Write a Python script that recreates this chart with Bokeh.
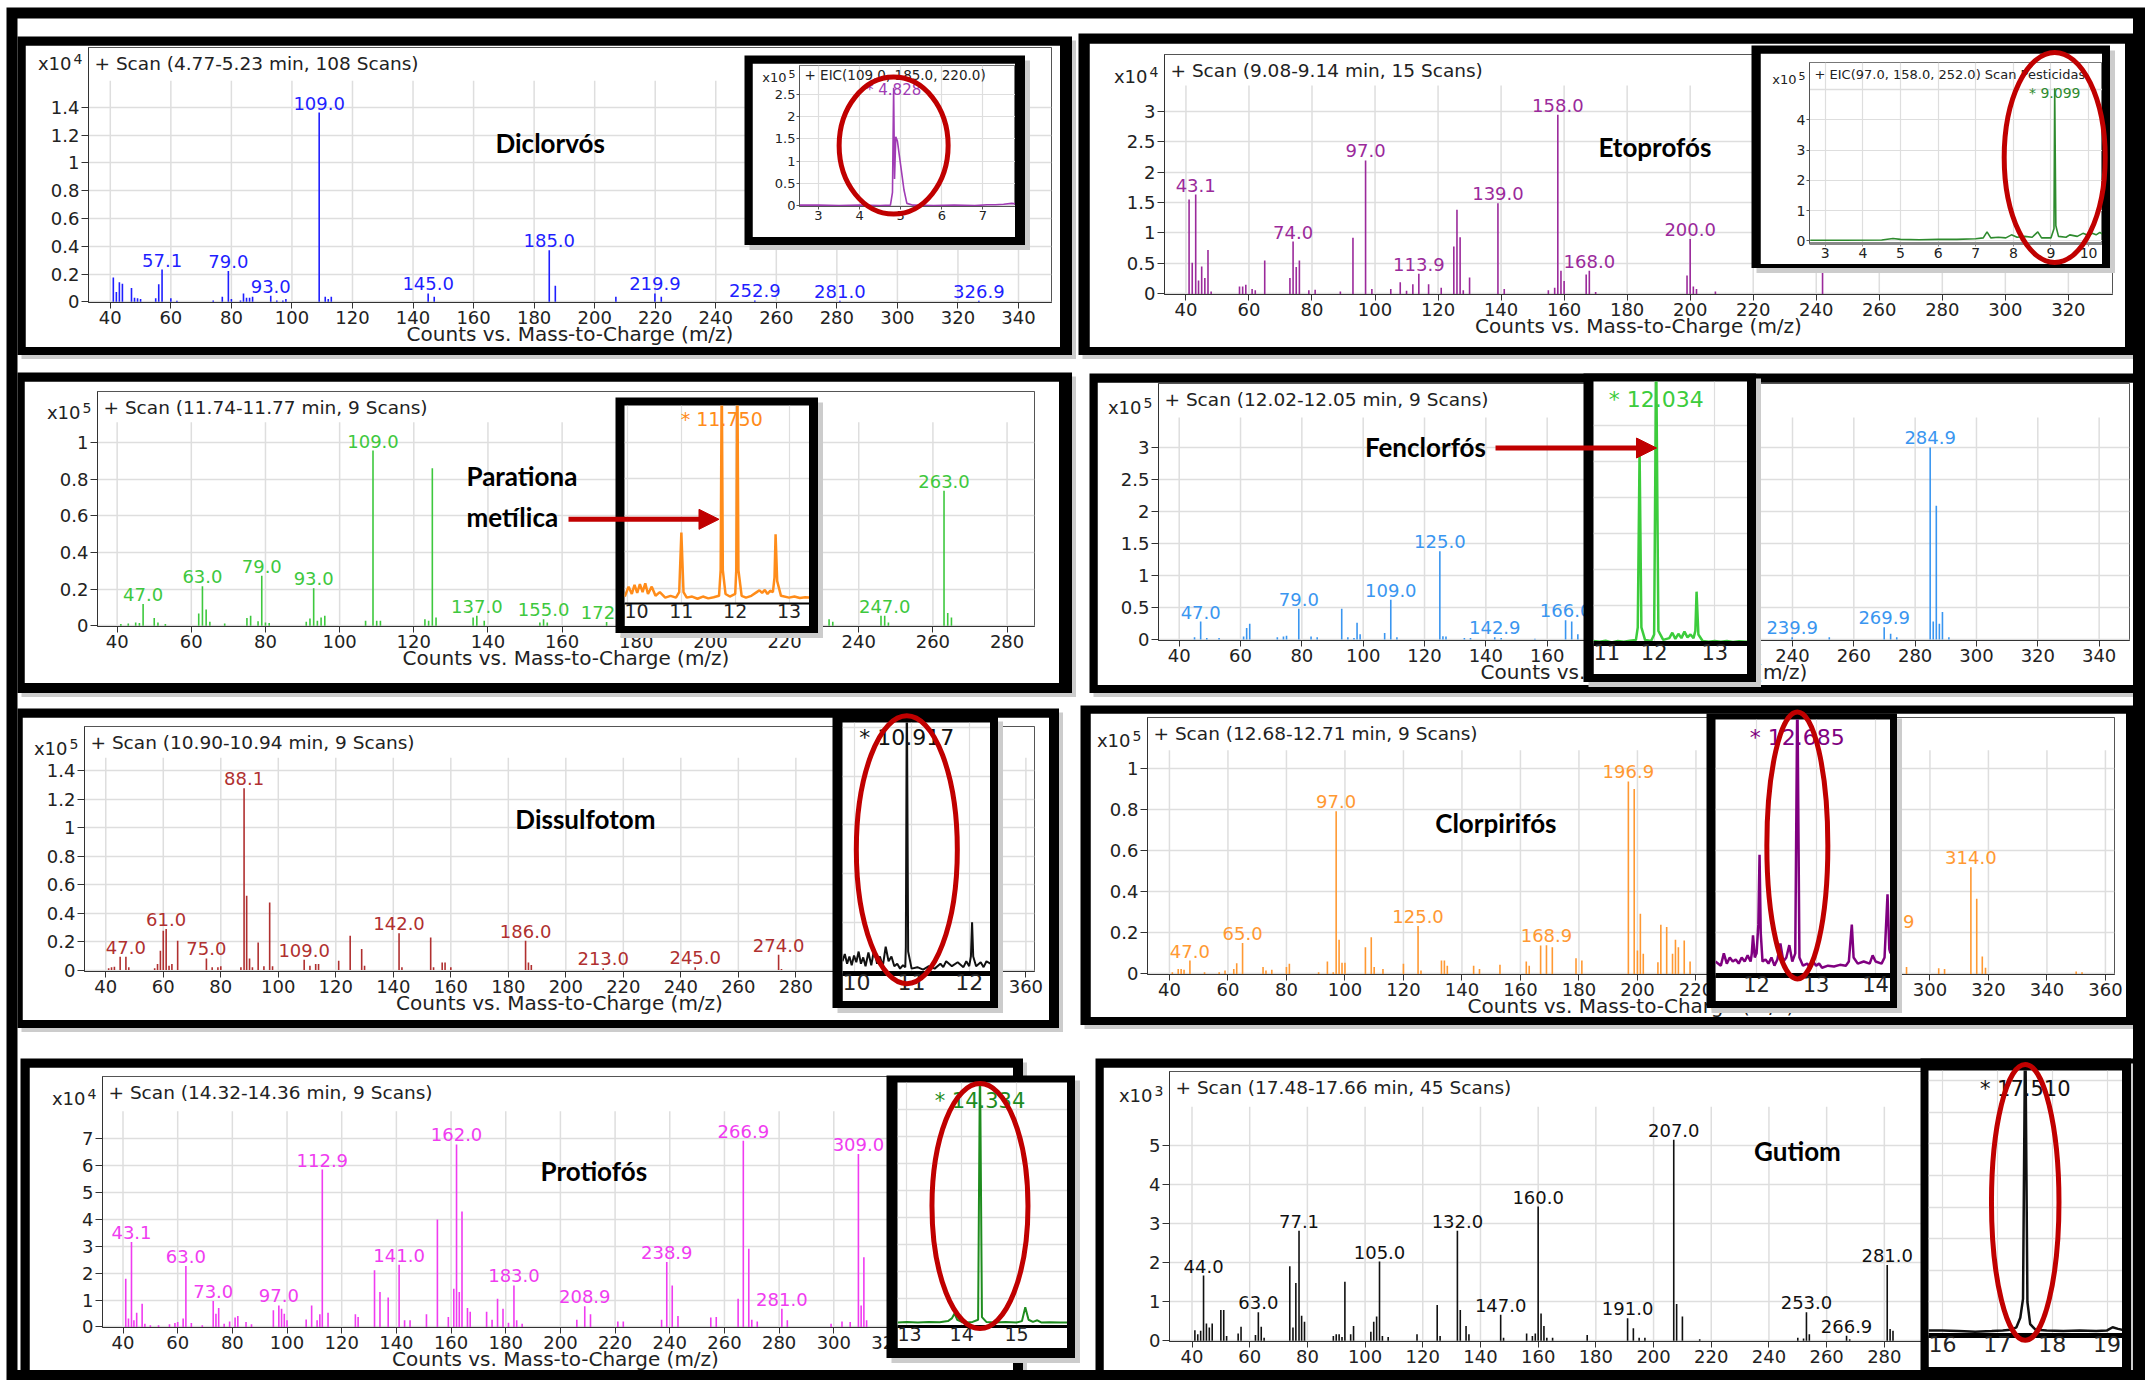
from bokeh.plotting import figure
from bokeh.models import (Range1d, FixedTicker, CustomJSTickFormatter, Arrow, NormalHead, GridBox)
from bokeh.core.properties import value
from bokeh.core.validation import silence
from bokeh.core.validation.warnings import MISSING_RENDERERS
from bokeh.embed import file_html
from bokeh.resources import INLINE

silence(MISSING_RENDERERS, True)

# ------------------------------------------------------------------ data
# mass spectra: (m/z, counts) pairs, labelled m/z values
diclorvos_peaks = [(41, 0.175), (42, 0.07), (43, 0.14), (44, 0.13), (47, 0.10), (48, 0.03), (49, 0.025),
                   (50, 0.02), (55, 0.025), (56, 0.127), (57.1, 0.232), (60, 0.025), (62, 0.008), (74, 0.01),
                   (77, 0.036), (79.0, 0.222), (80, 0.02), (83, 0.01), (84, 0.06), (85, 0.03), (86, 0.03),
                   (87, 0.036), (93.0, 0.043), (95, 0.01), (97, 0.01), (98, 0.02), (109.0, 1.362), (111, 0.036),
                   (112, 0.02), (113, 0.036), (145.0, 0.06), (147, 0.036), (185.0, 0.371), (187, 0.115),
                   (207, 0.036), (219.9, 0.06), (222, 0.036), (252.9, 0.01), (281.0, 0.008), (326.9, 0.008)]
diclorvos_labels = [57.1, 79.0, 93.0, 109.0, 145.0, 185.0, 219.9, 252.9, 281.0, 326.9]

etoprofos_peaks = [(41, 1.55), (42, 0.51), (43.1, 1.63), (44, 0.22), (45, 0.45), (46, 0.26), (47, 0.72), (48, 0.04),
                   (57, 0.12), (58, 0.12), (59, 0.15), (61, 0.08), (62, 0.06), (65, 0.55), (73, 0.26), (74.0, 0.86),
                   (75, 0.44), (76, 0.55), (79, 0.06), (81, 0.07), (89, 0.04), (93, 0.92), (97.0, 2.19), (99, 0.08),
                   (105, 0.08), (108, 0.19), (110, 0.05), (112, 0.16), (113.9, 0.33), (117, 0.16), (121, 0.1),
                   (125, 0.78), (126, 1.38), (127, 0.93), (128, 0.06), (130, 0.27), (139.0, 1.49), (141, 0.08),
                   (155, 0.06), (157, 0.1), (158.0, 2.94), (159, 0.38), (160, 0.21), (167, 0.32), (168.0, 0.38),
                   (170, 0.03), (199, 0.30), (200.0, 0.90), (201, 0.12), (202, 0.08), (208, 0.04), (242, 1.2)]
etoprofos_labels = [43.1, 74.0, 97.0, 113.9, 139.0, 158.0, 168.0, 200.0]

paration_peaks = [(41, 0.01), (43, 0.013), (45, 0.018), (46, 0.015), (47.0, 0.118), (50, 0.042), (51, 0.018),
                  (53, 0.01), (62, 0.067), (63.0, 0.215), (64, 0.089), (65, 0.022), (69, 0.013), (75, 0.042),
                  (76, 0.055), (78, 0.024), (79.0, 0.273), (80, 0.018), (81, 0.015), (91, 0.022), (92, 0.04),
                  (93.0, 0.204), (94, 0.027), (95, 0.045), (96, 0.055), (107, 0.027), (109.0, 0.955), (110, 0.027),
                  (111, 0.027), (123, 0.036), (124, 0.027), (125, 0.858), (126, 0.045), (136, 0.045), (137.0, 0.055),
                  (139, 0.027), (154, 0.018), (155.0, 0.036), (156, 0.018), (172.0, 0.02), (230, 0.027),
                  (232, 0.036), (233, 0.022), (246, 0.055), (247.0, 0.055), (248, 0.018), (263.0, 0.736),
                  (264, 0.069), (265, 0.045)]
paration_labels = [47.0, 63.0, 79.0, 93.0, 109.0, 137.0, 155.0, 172.0, 247.0, 263.0]

fenclorfos_peaks = [(45, 0.035), (47.0, 0.28), (49, 0.025), (53, 0.025), (61, 0.045), (62, 0.18), (63, 0.245),
                    (72, 0.035), (74, 0.045), (75, 0.06), (79.0, 0.48), (83, 0.045), (85, 0.035), (93, 0.48),
                    (95, 0.035), (97, 0.025), (98, 0.26), (99, 0.08), (107, 0.1), (109.0, 0.62), (111, 0.035),
                    (125.0, 1.38), (126, 0.05), (127, 0.045), (133, 0.025), (135, 0.025), (142.9, 0.035),
                    (145, 0.025), (156, 0.01), (166.0, 0.30), (168, 0.28), (170, 0.08), (239.9, 0.035), (252, 0.035),
                    (269.9, 0.19), (272, 0.09), (274, 0.035), (284.9, 3.0), (285.9, 0.28), (286.9, 2.09),
                    (287.9, 0.245), (288.9, 0.43), (291, 0.035)]
fenclorfos_labels = [47.0, 79.0, 109.0, 125.0, 142.9, 166.0, 239.9, 269.9, 284.9]

dissulfotom_peaks = [(41, 0.012), (42, 0.019), (43, 0.023), (45, 0.094), (47.0, 0.094), (48, 0.019), (57, 0.012),
                     (58, 0.042), (59, 0.136), (60, 0.276), (61.0, 0.288), (62, 0.03), (63, 0.042), (65, 0.206),
                     (75.0, 0.082), (77, 0.019), (79, 0.019), (80, 0.026), (87, 0.019), (88.1, 1.276), (89, 0.522),
                     (90, 0.082), (91, 0.019), (93, 0.194), (95, 0.026), (97, 0.475), (98, 0.026), (109.0, 0.073),
                     (111, 0.03), (113, 0.042), (114, 0.042), (121, 0.066), (125, 0.241), (129, 0.148), (130, 0.03),
                     (142.0, 0.258), (143, 0.019), (153, 0.229), (154, 0.019), (157, 0.054), (158, 0.054),
                     (160, 0.019), (186.0, 0.206), (187, 0.054), (188, 0.035), (213.0, 0.012), (245.0, 0.019),
                     (274.0, 0.108), (275, 0.007)]
dissulfotom_labels = [47.0, 61.0, 75.0, 88.1, 109.0, 142.0, 186.0, 213.0, 245.0, 274.0]

clorpirifos_peaks = [(41, 0.008), (43, 0.024), (44, 0.024), (45, 0.02), (47.0, 0.065), (52, 0.008), (57, 0.008),
                     (59, 0.016), (62, 0.024), (63, 0.052), (65.0, 0.15), (72, 0.033), (73, 0.016), (75, 0.02),
                     (80, 0.033), (81, 0.049), (91, 0.008), (94, 0.06), (96, 0.008), (97.0, 0.793), (98, 0.167),
                     (99, 0.054), (100, 0.054), (107, 0.13), (109, 0.179), (110, 0.033), (113, 0.024), (120, 0.049),
                     (125.0, 0.233), (126, 0.016), (133, 0.065), (134, 0.065), (135, 0.04), (144, 0.04), (146, 0.024),
                     (153, 0.044), (162, 0.06), (163, 0.04), (166.9, 0.138), (168.9, 0.14), (170.9, 0.13),
                     (179, 0.076), (181, 0.065), (196.9, 0.938), (198.9, 0.902), (200, 0.114), (201, 0.293),
                     (202, 0.098), (207, 0.057), (208, 0.239), (210, 0.228), (212, 0.098), (213, 0.166), (214, 0.13),
                     (216, 0.163), (218, 0.06), (285.9, 0.21), (288, 0.05), (290, 0.04), (292, 0.033), (303, 0.028),
                     (305, 0.024), (314.0, 0.52), (316.0, 0.366), (317.9, 0.085), (319, 0.03), (350, 0.012),
                     (352, 0.008)]
clorpirifos_labels = [47.0, 65.0, 97.0, 125.0, 168.9, 196.9, 285.9, 314.0]

protiofos_peaks = [(41, 1.79), (42, 0.31), (43.1, 3.15), (44, 0.25), (45, 0.53), (47, 0.86), (48, 0.12), (50, 0.06),
                   (53, 0.06), (57, 0.1), (59, 0.15), (60, 0.18), (62, 0.31), (63.0, 2.26), (65, 0.15), (69, 0.06),
                   (73.0, 0.96), (74, 0.49), (75, 0.70), (77, 0.12), (79, 0.2), (81, 0.35), (82, 0.41), (85, 0.18),
                   (87, 0.1), (95, 0.62), (97.0, 0.80), (98, 0.68), (99, 0.49), (100, 0.25), (107, 0.28), (109, 0.80),
                   (111, 0.25), (112, 0.47), (112.9, 5.84), (115, 0.53), (125, 0.47), (126, 0.37), (132, 2.10),
                   (134, 1.30), (137, 1.09), (141.0, 2.31), (143, 0.25), (145, 0.25), (151, 0.47), (155, 3.99),
                   (159, 0.37), (161, 1.42), (162.0, 6.77), (163, 1.30), (164, 4.28), (166, 0.70), (167, 0.56),
                   (173, 0.56), (175, 0.27), (177, 1.05), (179, 0.68), (181, 0.16), (183.0, 1.54), (184, 0.25),
                   (186, 0.12), (206, 0.27), (208.9, 0.77), (211, 0.47), (221, 0.2), (223, 0.2), (237, 0.27),
                   (238.9, 2.41), (240.9, 1.54), (243, 0.41), (255, 0.35), (257, 0.37), (265, 1.05), (266.9, 6.91),
                   (268.9, 2.90), (270, 0.27), (272, 0.2), (281.0, 0.68), (283, 0.25), (299, 0.12), (303, 0.2),
                   (306, 0.18), (309.0, 6.42), (310, 0.80), (311, 2.59), (312, 0.25)]
protiofos_labels = [43.1, 63.0, 73.0, 97.0, 112.9, 141.0, 162.0, 183.0, 208.9, 238.9, 266.9, 281.0, 309.0]

gutiom_peaks = [(41, 0.27), (42, 0.17), (43, 0.26), (44.0, 1.67), (45, 0.44), (46, 0.34), (47, 0.44), (50, 0.79),
                (51, 0.79), (52, 0.12), (56, 0.19), (57, 0.36), (62, 0.15), (63.0, 0.73), (64, 0.36), (65, 0.08),
                (73.9, 1.91), (75, 0.34), (76, 1.48), (77.1, 2.82), (78, 0.64), (79, 0.49), (89, 0.12), (90, 0.17),
                (91, 0.17), (92, 0.1), (93, 1.51), (95, 0.17), (96, 0.38), (102, 0.23), (103, 0.49), (104, 0.62),
                (105.0, 2.03), (106, 0.12), (108, 0.1), (118, 0.17), (125, 0.92), (126, 0.12), (132.0, 2.82),
                (133, 0.79), (135, 0.38), (136, 0.17), (147.0, 0.67), (148, 0.08), (156, 0.19), (158, 0.12),
                (159, 0.19), (160.0, 3.44), (161, 0.70), (162, 0.38), (163, 0.08), (165, 0.08), (177, 0.15),
                (191.0, 0.58), (193, 0.32), (195, 0.08), (197, 0.08), (207.0, 5.15), (208, 0.94), (210, 0.62),
                (216, 0.04), (250, 0.08), (252, 0.06), (253.0, 0.73), (254, 0.17), (266.9, 0.13), (268, 0.04),
                (281.0, 1.94), (282, 0.30), (283, 0.26)]
gutiom_labels = [44.0, 63.0, 77.1, 105.0, 132.0, 147.0, 160.0, 191.0, 207.0, 253.0, 266.9, 281.0]

# chromatograms (retention time, signal) for the insets
diclorvos_eic = [(2.55, 0.01), (3.0, 0.01), (3.5, 0.0), (4.0, 0.01), (4.5, 0.0), (4.75, 0.01), (4.80, 0.3),
                 (4.828, 2.65), (4.85, 0.6), (4.88, 1.55), (4.92, 1.45), (5.0, 0.9), (5.08, 0.35), (5.15, 0.05),
                 (5.3, 0.01), (5.8, 0.0), (6.3, 0.01), (6.8, 0.0), (7.1, 0.02), (7.3, 0.02), (7.5, 0.03),
                 (7.7, 0.05), (7.79, 0.04)]
etoprofos_eic = [(2.6, 0.02), (3.5, 0.02), (4.5, 0.03), (4.8, 0.08), (5.0, 0.05), (5.5, 0.04), (6.0, 0.05),
                 (6.5, 0.05), (7.0, 0.07), (7.2, 0.1), (7.3, 0.3), (7.4, 0.1), (7.6, 0.12), (7.8, 0.1), (7.95, 0.2),
                 (8.1, 0.12), (8.3, 0.15), (8.5, 0.12), (8.65, 0.3), (8.75, 0.1), (9.0, 0.1), (9.08, 0.4),
                 (9.099, 5.05), (9.13, 0.5), (9.2, 0.15), (9.4, 0.12), (9.5, 0.2), (9.7, 0.15), (9.85, 0.25),
                 (10.0, 0.18), (10.1, 0.25), (10.2, 0.2), (10.3, 0.28), (10.37, 0.22)]
paration_tic = [(9.95, -0.22), (10.02, 0.05), (10.08, -0.15), (10.13, 0.1), (10.18, -0.12), (10.23, 0.12),
                (10.28, -0.1), (10.33, 0.14), (10.38, -0.15), (10.45, 0.05), (10.52, -0.2), (10.6, -0.1),
                (10.7, -0.25), (10.8, -0.2), (10.9, -0.25), (10.96, -0.1), (11.0, 1.53), (11.04, -0.1),
                (11.1, -0.25), (11.2, -0.22), (11.3, -0.28), (11.4, -0.22), (11.5, -0.27), (11.6, -0.24),
                (11.7, -0.2), (11.73, 0.5), (11.75, 6.0), (11.77, 0.5), (11.82, -0.15), (11.9, -0.22), (12.0, -0.15),
                (12.02, 0.5), (12.04, 6.0), (12.06, 0.5), (12.12, -0.2), (12.2, -0.25), (12.3, -0.2), (12.4, -0.1),
                (12.45, -0.05), (12.5, -0.12), (12.55, -0.04), (12.6, -0.15), (12.65, -0.06), (12.7, -0.1),
                (12.73, 0.3), (12.75, 1.48), (12.78, 0.2), (12.85, -0.2), (13.0, -0.25), (13.1, -0.22),
                (13.2, -0.26), (13.3, -0.24), (13.38, -0.25)]
fenclorfos_tic = [(11.0, 0.02), (11.1, 0.0), (11.2, 0.03), (11.3, -0.02), (11.4, 0.02), (11.5, 0.0), (11.6, 0.03),
                  (11.7, 0.05), (11.73, 0.4), (11.76, 5.3), (11.79, 0.4), (11.85, 0.05), (11.95, 0.02), (12.0, 0.2),
                  (12.034, 8.0), (12.07, 0.3), (12.15, 0.05), (12.25, 0.1), (12.3, 0.25), (12.35, 0.08), (12.4, 0.22),
                  (12.45, 0.1), (12.5, 0.28), (12.55, 0.12), (12.6, 0.2), (12.65, 0.1), (12.68, 0.3), (12.7, 1.39),
                  (12.73, 0.2), (12.8, 0.02), (12.9, 0.0), (13.0, 0.02), (13.1, 0.0), (13.2, 0.02), (13.3, -0.01),
                  (13.4, 0.01), (13.54, 0.0)]
dissulfotom_tic = [(9.8, 0.2), (9.84, 0.35), (9.88, 0.15), (9.92, 0.3), (9.96, 0.12), (10.0, 0.32), (10.04, 0.18),
                   (10.08, 0.4), (10.12, 0.15), (10.16, 0.28), (10.2, 0.1), (10.25, 0.38), (10.3, 0.12), (10.35, 0.45),
                   (10.4, 0.15), (10.45, 0.3), (10.5, 0.1), (10.55, 0.5), (10.6, 0.2), (10.65, 0.3), (10.7, 0.1),
                   (10.75, 0.15), (10.8, 0.05), (10.85, 0.12), (10.89, 0.08), (10.9, 0.5), (10.917, 6.0),
                   (10.94, 0.4), (11.0, 0.05), (11.1, 0.08), (11.2, 0.03), (11.3, 0.1), (11.4, 0.05), (11.5, 0.15),
                   (11.55, 0.08), (11.6, 0.2), (11.7, 0.1), (11.8, 0.18), (11.9, 0.08), (11.95, 0.2), (12.0, 0.1),
                   (12.03, 0.3), (12.05, 1.0), (12.07, 0.3), (12.12, 0.1), (12.2, 0.18), (12.25, 0.08), (12.3, 0.2),
                   (12.37, 0.15)]
clorpirifos_tic = [(11.31, 0.3), (11.4, 0.2), (11.45, 0.5), (11.5, 0.25), (11.55, 0.4), (11.6, 0.3), (11.65, 0.35),
                   (11.7, 0.25), (11.75, 0.4), (11.8, 0.3), (11.85, 0.45), (11.9, 0.3), (11.92, 0.5), (11.94, 0.94),
                   (11.97, 0.4), (12.0, 0.5), (12.03, 1.2), (12.05, 2.9), (12.07, 1.0), (12.1, 0.3), (12.15, 0.35),
                   (12.2, 0.25), (12.25, 0.4), (12.3, 0.2), (12.35, 0.35), (12.4, 0.74), (12.45, 0.3), (12.5, 0.4),
                   (12.55, 0.7), (12.6, 0.3), (12.65, 0.5), (12.685, 7.0), (12.72, 0.4), (12.78, 0.2), (12.85, 0.25),
                   (12.9, 0.15), (12.95, 0.3), (13.0, 0.2), (13.05, 0.25), (13.1, 0.15), (13.2, 0.2), (13.3, 0.18),
                   (13.4, 0.22), (13.5, 0.2), (13.55, 0.3), (13.6, 1.2), (13.63, 0.4), (13.7, 0.25), (13.8, 0.3),
                   (13.9, 0.25), (13.95, 0.45), (14.0, 0.3), (14.1, 0.25), (14.15, 0.4), (14.2, 1.94), (14.23, 0.6),
                   (14.25, 0.5)]
protiofos_tic = [(12.83, 0.1), (13.0, 0.12), (13.2, 0.1), (13.4, 0.12), (13.6, 0.11), (13.75, 0.15), (13.82, 0.25),
                 (13.87, 0.43), (13.92, 0.2), (14.0, 0.12), (14.1, 0.1), (14.2, 0.12), (14.3, 0.2), (14.334, 10.0),
                 (14.37, 0.3), (14.45, 0.12), (14.6, 0.1), (14.8, 0.12), (15.0, 0.1), (15.1, 0.15), (15.16, 0.66),
                 (15.22, 0.2), (15.3, 0.12), (15.38, 0.18), (15.45, 0.1), (15.6, 0.11), (15.8, 0.1), (15.93, 0.1)]
gutiom_tic = [(15.75, 0.1), (16.0, 0.1), (16.3, 0.08), (16.6, 0.06), (16.9, 0.08), (17.1, 0.1), (17.25, 0.12),
              (17.35, 0.2), (17.42, 0.5), (17.47, 1.1), (17.51, 10.0), (17.55, 1.0), (17.6, 0.3), (17.7, 0.12),
              (17.9, 0.1), (18.2, 0.08), (18.5, 0.1), (18.8, 0.08), (19.0, 0.1), (19.1, 0.2), (19.2, 0.15),
              (19.28, 0.12)]

peak_rts = [4.828, 9.099, 11.750, 12.034, 10.917, 12.685, 14.334, 17.510]
peak_rt_labels = ["* 4.828", "* 9.099", "* 11.750", "* 12.034", "* 10.917", "* 12.685", "* 14.334", "* 17.510"]

compounds = ["Diclorvós", "Etoprofós", "Parationa", "metílica", "Fenclorfós", "Dissulfotom", "Clorpirifós",
             "Protiofós", "Gutiom"]
scan_titles = ["+ Scan (4.77-5.23 min, 108 Scans)", "+ Scan (9.08-9.14 min, 15 Scans)",
               "+ Scan (11.74-11.77 min, 9 Scans)", "+ Scan (12.02-12.05 min, 9 Scans)",
               "+ Scan (10.90-10.94 min, 9 Scans)", "+ Scan (12.68-12.71 min, 9 Scans)",
               "+ Scan (14.32-14.36 min, 9 Scans)", "+ Scan (17.48-17.66 min, 45 Scans)"]
exponents = ["4", "4", "5", "5", "5", "5", "4", "3"]
eic_titles = ["+ EIC(109.0, 185.0, 220.0)", "+ EIC(97.0, 158.0, 252.0) Scan Pesticidas"]
x_axis_title = "Counts vs. Mass-to-Charge (m/z)"

mz_ticks_340 = [40, 60, 80, 100, 120, 140, 160, 180, 200, 220, 240, 260, 280, 300, 320, 340]
mz_ticks_320 = [40, 60, 80, 100, 120, 140, 160, 180, 200, 220, 240, 260, 280, 300, 320]
mz_ticks_280 = [40, 60, 80, 100, 120, 140, 160, 180, 200, 220, 240, 260, 280]
mz_ticks_360 = [40, 60, 80, 100, 120, 140, 160, 180, 200, 220, 240, 260, 280, 300, 320, 340, 360]
y_ticks_14 = [0, 0.2, 0.4, 0.6, 0.8, 1, 1.2, 1.4]
y_ticks_3 = [0, 0.5, 1, 1.5, 2, 2.5, 3]
y_ticks_1 = [0, 0.2, 0.4, 0.6, 0.8, 1]
y_ticks_7 = [0, 1, 2, 3, 4, 5, 6, 7]
y_ticks_5 = [0, 1, 2, 3, 4, 5]

# ------------------------------------------------------------------ helpers
FONT = "DejaVu Sans"
RED = "#c00000"
GRID = "#dedede"
SHADOW = "#cccccc"
children = []


def add(model, rect):
    children.append((model, tuple(int(round(v)) for v in rect)))


def base_fig(rect, **kw):
    x0, y0, x1, y1 = [int(round(v)) for v in rect]
    return figure(width=x1 - x0, height=y1 - y0, output_backend="svg", toolbar_location=None,
                  title=None, frame_align=False, **kw)


def block(rect, color):
    p = base_fig(rect, x_range=Range1d(0, 1), y_range=Range1d(0, 1), x_axis_location=None,
                 y_axis_location=None, min_border=0, background_fill_color=color,
                 border_fill_color=color, outline_line_color=None)
    p.grid.visible = False
    add(p, rect)


def framed(rect, shadow=5):
    """black frame with a soft grey drop shadow"""
    x0, y0, x1, y1 = rect
    block((x0 + shadow, y0 + shadow, min(x1 + shadow, 2133), min(y1 + shadow, 1370)), SHADOW)
    block(rect, "black")


def layer(rect, frame, xr, yr):
    """transparent full-canvas figure whose scales coincide with the plot frame given"""
    ox0, oy0, ox1, oy1 = rect
    L, T, R, B = frame
    kx = (xr[1] - xr[0]) / (R - L)
    ky = (yr[1] - yr[0]) / (B - T)
    oxr = (xr[0] - (L - ox0) * kx, xr[1] + (ox1 - R) * kx)
    oyr = (yr[0] - (oy1 - B) * ky, yr[1] + (T - oy0) * ky)
    p = base_fig(rect, x_range=Range1d(*oxr), y_range=Range1d(*oyr), x_axis_location=None,
                 y_axis_location=None, min_border=0, background_fill_color=None, border_fill_color=None,
                 outline_line_color=None)
    p.grid.visible = False
    return p


def txt(p, x, y, s, size, dx=0, dy=0, align="center", color="#222"):
    p.text(x=[x], y=[y], text=[s], x_offset=dx, y_offset=dy, text_align=align, text_baseline="middle",
           text_font=value(FONT), text_font_size=size, text_color=color)


def style_axis(ax, size, ticks, tick_out=6, standoff=2, color="#333", line_w=1):
    ax.ticker = FixedTicker(ticks=ticks)
    ax.formatter = CustomJSTickFormatter(code="return tick.toString()")
    ax.major_label_text_font = FONT
    ax.major_label_text_font_size = size
    ax.major_label_text_color = "#222"
    ax.axis_line_color = color
    ax.axis_line_width = line_w
    ax.major_tick_line_color = color if tick_out > 0 else None
    ax.minor_tick_line_color = None
    ax.major_tick_in = 0
    ax.major_tick_out = tick_out
    ax.major_label_standoff = standoff


def main_panel(canvas, frame, xr, yr, xticks, yticks, grid_top, peaks, labels, color, title, exponent,
               x10_dy, names, xlabel=True):
    cx0, cy0, cx1, cy1 = canvas
    L, T, R, B = frame
    p = base_fig(canvas, x_range=Range1d(*xr), y_range=Range1d(*yr),
                 min_border_left=L - cx0, min_border_right=cx1 - R, min_border_top=T - cy0,
                 min_border_bottom=cy1 - B, background_fill_color="white", border_fill_color="white",
                 outline_line_color="#555")
    style_axis(p.xaxis[0], "18px", xticks)
    style_axis(p.yaxis[0], "18px", yticks, tick_out=7)
    p.xgrid.visible = False
    p.ygrid.grid_line_color = GRID
    p.ygrid.grid_line_width = 1.5
    gx = [t for t in xticks if xr[0] < t < xr[1]]
    p.segment(x0=gx, y0=[yr[0]] * len(gx), x1=gx, y1=[grid_top] * len(gx), line_color=GRID, line_width=1.5)
    mz = [m for m, _ in peaks]
    it = [v for _, v in peaks]
    p.segment(x0=mz, y0=[0] * len(mz), x1=mz, y1=it, line_color=color, line_width=1.6)
    d = dict(peaks)
    p.text(x=labels, y=[d[m] for m in labels], text=["%.1f" % m for m in labels], text_align="center",
           text_baseline="bottom", y_offset=-3, text_font=value(FONT), text_font_size="18px", text_color=color)
    txt(p, xr[0], yr[1], title, "18.5px", dx=6, dy=16, align="left")
    for nx, ny, ntext, nalign in names:
        p.text(x=[nx], y=[ny], text=[ntext], text_align=nalign, text_baseline="middle",
               text_font=value("Lato"), text_font_style="bold", text_font_size="26px", text_color="black")
    add(p, canvas)
    # texts that sit outside the plot frame
    t = layer(canvas, frame, xr, yr)
    txt(t, xr[0], yr[1], "x10", "18px", dx=-17, dy=x10_dy, align="right")
    txt(t, xr[0], yr[1], exponent, "14px", dx=-6, dy=x10_dy - 5, align="right")
    if xlabel:
        txt(t, (xr[0] + xr[1]) / 2, yr[0], x_axis_title, "20px", dy=31)
    add(t, canvas)


def inset_panel(canvas, frame, xr, yr, xticks, trace, color, lw, tick_px, k, label_px, label_dy,
                axis_color="black", axis_w=4, yticks=None, hlines=(), title=None, title_px="13px",
                title_dy=10, tick_out=0, outline=None):
    cx0, cy0, cx1, cy1 = canvas
    L, T, R, B = frame
    p = base_fig(canvas, x_range=Range1d(*xr), y_range=Range1d(*yr),
                 y_axis_location="left" if yticks else None,
                 min_border_left=L - cx0, min_border_right=cx1 - R, min_border_top=T - cy0,
                 min_border_bottom=cy1 - B, background_fill_color="white", border_fill_color="white",
                 outline_line_color=outline)
    style_axis(p.xaxis[0], tick_px, xticks, tick_out=tick_out, standoff=1 if tick_out else 0,
               color=axis_color, line_w=axis_w)
    if tick_out == 0:
        p.xaxis[0].major_tick_line_color = None
    p.xgrid.grid_line_color = GRID
    p.xgrid.grid_line_width = 1.2
    if yticks:
        style_axis(p.yaxis[0], tick_px, yticks, tick_out=tick_out, standoff=1, color="#555")
        p.ygrid.grid_line_color = GRID
        p.ygrid.grid_line_width = 1.2
    else:
        p.ygrid.visible = False
    if hlines:
        p.hspan(y=list(hlines), line_color=GRID, line_width=1.5)
    p.line([t for t, _ in trace], [v for _, v in trace], line_color=color, line_width=lw)
    txt(p, peak_rts[k], yr[1], peak_rt_labels[k], label_px, dy=label_dy, color=color)
    if title is not None:
        txt(p, xr[0], yr[1], title, title_px, dx=5, dy=title_dy, align="left")
    add(p, canvas)


def overlay(orect, frame, xr, yr, ellipse=None, arrow=None, x10_dy=None):
    p = layer(orect, frame, xr, yr)
    if ellipse is not None:
        ex, ey, ew, eh = ellipse
        p.ellipse(x=[ex], y=[ey], width=[ew], height=[eh], width_units="screen", height_units="screen",
                  fill_color=None, line_color=RED, line_width=5)
    if arrow is not None:
        x0, x1, ya = arrow
        p.add_layout(Arrow(end=NormalHead(size=20, fill_color=RED, line_color=RED), x_start=x0, y_start=ya,
                           x_end=x1, y_end=ya, line_color=RED, line_width=5))
    if x10_dy is not None:
        txt(p, xr[0], yr[1], "x10", "13px", dx=-13, dy=x10_dy, align="right")
        txt(p, xr[0], yr[1], "5", "11px", dx=-4, dy=x10_dy - 4, align="right")
    add(p, orect)


def grow(r, m, left=None):
    x0 = r[0] - m if left is None else left
    return (max(0, x0), max(0, r[1] - m), min(2145, r[2] + m), min(1380, r[3] + m))


# ------------------------------------------------------------------ page frame
block((6, 7, 2145, 1380), "black")
block((17, 18, 2133, 1370), "white")

# ---- 1 Diclorvós
framed((17, 36, 1072, 355), 4)
main_panel((25, 45, 1060, 347), (88, 47, 1051, 302), (32.8, 350.9), (-0.005, 1.83), mz_ticks_340, y_ticks_14,
           1.59, diclorvos_peaks, diclorvos_labels, "#1f1fff", scan_titles[0], exponents[0], 16,
           [(185.3, 1.144, compounds[0], "center")])
i1 = (744, 55, 1025, 245)
framed(i1)
fr1 = (799, 65, 1015, 206)
xr1, yr1 = (2.54, 7.79), (-0.02, 3.15)
inset_panel((752, 63, 1015, 237), fr1, xr1, yr1, [3, 4, 5, 6, 7], diclorvos_eic, "#a03cb4", 1.6, "13px", 0,
            "15px", 24, axis_color="#555", axis_w=1, yticks=[0, 0.5, 1, 1.5, 2, 2.5], title=eic_titles[0],
            title_px="13.5px", title_dy=9, tick_out=3, outline="#777")
overlay(grow(i1, 6), fr1, xr1, yr1, ellipse=(peak_rts[0], 1.35, 109, 137), x10_dy=12)

# ---- 2 Etoprofós
framed((1078, 33, 2133, 355), 4)
main_panel((1089, 43, 2125, 347), (1164, 54, 2112, 294), (33.2, 334.0), (-0.01, 3.93), mz_ticks_320, y_ticks_3,
           3.42, etoprofos_peaks, etoprofos_labels, "#9b2a9b", scan_titles[1], exponents[1], 22,
           [(188.8, 2.41, compounds[1], "center")])
i2 = (1751, 45, 2110, 268)
framed(i2)
fr2 = (1809, 62, 2102, 243)
xr2, yr2 = (2.58, 10.37), (-0.086, 5.9)
inset_panel((1760, 53, 2102, 264), fr2, xr2, yr2, [3, 4, 5, 6, 7, 8, 9, 10], etoprofos_eic, "#2e8b2e", 1.6,
            "14px", 1, "14px", 30, axis_color="#888", axis_w=3, yticks=[0, 1, 2, 3, 4], hlines=[5],
            title=eic_titles[1], title_px="13px", title_dy=12, tick_out=3, outline="#777")
overlay(grow(i2, 6), fr2, xr2, yr2, ellipse=(peak_rts[1], 2.76, 101, 210), x10_dy=17)

# ---- 3 Parationa metílica
framed((17, 372, 1072, 693), 4)
main_panel((24, 381, 1059, 683), (97, 391, 1034, 626), (34.7, 287.4), (-0.004, 1.277), mz_ticks_280, y_ticks_1,
           1.11, paration_peaks, paration_labels, "#3ec83e", scan_titles[2], exponents[2], 21,
           [(134.2, 0.818, compounds[2], "left"), (134.2, 0.591, compounds[3], "left")])
i3 = (615, 397, 818, 633)
framed(i3)
fr3 = (624, 405, 809, 603)
xr3, yr3 = (9.944, 13.38), (-0.41, 5.0)
inset_panel((624, 405, 809, 626), fr3, xr3, yr3, [10, 11, 12, 13], paration_tic, "#ff8c1a", 2.5, "19px", 2,
            "19px", 13, axis_w=2, hlines=[0, 1, 2, 3, 4])
overlay(grow(i3, 6, left=560), fr3, xr3, yr3, arrow=(8.904, 11.699, 1.89))

# ---- 4 Fenclorfós
framed((1089, 373, 2133, 693), 4)
main_panel((1097, 382, 2133, 685), (1158, 383, 2129, 640), (33.25, 349.9), (-0.016, 4.0), mz_ticks_340,
           y_ticks_3, 3.47, fenclorfos_peaks, fenclorfos_labels, "#3a96f0", scan_titles[3], exponents[3], 24,
           [(120.3, 3.01, compounds[4], "center")])
i4 = (1583, 373, 1756, 682)
framed(i4)
fr4 = (1593, 381, 1747, 643)
xr4, yr4 = (11.0, 13.54), (-0.05, 7.23)
inset_panel((1593, 381, 1747, 674), fr4, xr4, yr4, [11, 12, 13], fenclorfos_tic, "#3ccc3c", 2.5, "21px", 3,
            "22px", 18, axis_w=5, hlines=[1, 2, 3, 4, 5, 6])
overlay(grow(i4, 6, left=1485), fr4, xr4, yr4, arrow=(9.384, 12.039, 5.382))

# ---- 5 Dissulfotom
framed((17, 708, 1059, 1028), 4)
main_panel((22, 717, 1049, 1020), (84, 726, 1034, 971), (32.6, 363.0), (-0.01, 1.71), mz_ticks_360, y_ticks_14,
           1.49, dissulfotom_peaks, dissulfotom_labels, "#b03030", scan_titles[4], exponents[4], 22,
           [(206.8, 1.06, compounds[5], "center")])
i5 = (832, 716, 998, 1008)
framed(i5)
fr5 = (842, 722, 990, 973)
xr5, yr5 = (9.8, 12.37), (-0.05, 5.1)
inset_panel((842, 722, 990, 1001), fr5, xr5, yr5, [10, 11, 12], dissulfotom_tic, "#111111", 2, "22px", 4,
            "22px", 15, axis_w=5, hlines=[1, 2, 3, 4, 5])
overlay(grow(i5, 6), fr5, xr5, yr5, ellipse=(peak_rts[4], 2.49, 101, 268))

# ---- 6 Clorpirifós
framed((1080, 705, 2133, 1025), 4)
main_panel((1090, 713, 2126, 1017), (1147, 717, 2114, 974), (32.5, 363.1), (-0.003, 1.25), mz_ticks_360,
           y_ticks_1, 1.09, clorpirifos_peaks, clorpirifos_labels, "#ff9933", scan_titles[5], exponents[5], 23,
           [(151.6, 0.735, compounds[6], "center")])
i6 = (1706, 713, 1897, 1008)
framed(i6)
fr6 = (1715, 719, 1890, 975)
xr6, yr6 = (11.31, 14.25), (-0.04, 6.2)
inset_panel((1715, 719, 1890, 1001), fr6, xr6, yr6, [12, 13, 14], clorpirifos_tic, "#800080", 2.5, "21px", 5,
            "22px", 18, axis_w=5, hlines=[1, 2, 3, 4, 5])
overlay(grow(i6, 6), fr6, xr6, yr6, ellipse=(peak_rts[5], 3.13, 61, 267))

# ---- 7 Protiofós
framed((20, 1058, 1023, 1370), 4)
main_panel((29, 1067, 1013, 1370), (102, 1076, 1008, 1327), (32.5, 363.9), (-0.02, 9.29), mz_ticks_360, y_ticks_7,
           8.0, protiofos_peaks, protiofos_labels, "#f03cf0", scan_titles[6], exponents[6], 22,
           [(212.2, 5.8, compounds[7], "center")])
i7 = (886, 1075, 1075, 1358)
framed(i7)
fr7 = (897, 1082, 1067, 1326)
xr7, yr7 = (12.83, 15.93), (-0.05, 8.99)
inset_panel((897, 1082, 1067, 1348), fr7, xr7, yr7, [13, 14, 15, 16], protiofos_tic, "#1e8c1e", 2, "19px", 6,
            "21px", 18, axis_w=3, hlines=[1, 2, 3, 4, 5, 6, 7, 8])
overlay(grow(i7, 6), fr7, xr7, yr7, ellipse=(peak_rts[6], 4.41, 96, 245))

# ---- 8 Gutiom
framed((1095, 1058, 2133, 1370), 4)
main_panel((1103, 1067, 2133, 1370), (1169, 1071, 2125, 1341), (32.2, 363.6), (-0.018, 6.9), mz_ticks_360,
           y_ticks_5, 6.0, gutiom_peaks, gutiom_labels, "#111111", scan_titles[7], exponents[7], 24,
           [(249.9, 4.87, compounds[8], "center")], xlabel=False)
i8 = (1920, 1058, 2131, 1370)
framed(i8)
fr8 = (1928, 1070, 2122, 1335)
xr8, yr8 = (15.75, 19.28), (-0.06, 8.32)
inset_panel((1928, 1070, 2122, 1367), fr8, xr8, yr8, [16, 17, 18, 19], gutiom_tic, "#111111", 2.5, "22px", 7,
            "21px", 18, axis_w=5, hlines=[1, 2, 3, 4, 5, 6, 7, 8])
overlay(grow(i8, 6), fr8, xr8, yr8, ellipse=(peak_rts[7], 4.15, 67.5, 276))

# ------------------------------------------------------------------ absolute placement via CSS grid tracks
xs = sorted({0, 2145} | {r[0] for _, r in children} | {r[2] for _, r in children})
ys = sorted({0, 1380} | {r[1] for _, r in children} | {r[3] for _, r in children})
cols = ["%dpx" % (b - a) for a, b in zip(xs, xs[1:])]
rows = ["%dpx" % (b - a) for a, b in zip(ys, ys[1:])]
items = []
for m, (x0, y0, x1, y1) in children:
    r0, c0 = ys.index(y0), xs.index(x0)
    items.append((m, r0, c0, ys.index(y1) - r0, xs.index(x1) - c0))

layout = GridBox(children=items, rows=rows, cols=cols, spacing=0, width=2145, height=1380)

open("out.html", "w").write(file_html(layout, INLINE))
